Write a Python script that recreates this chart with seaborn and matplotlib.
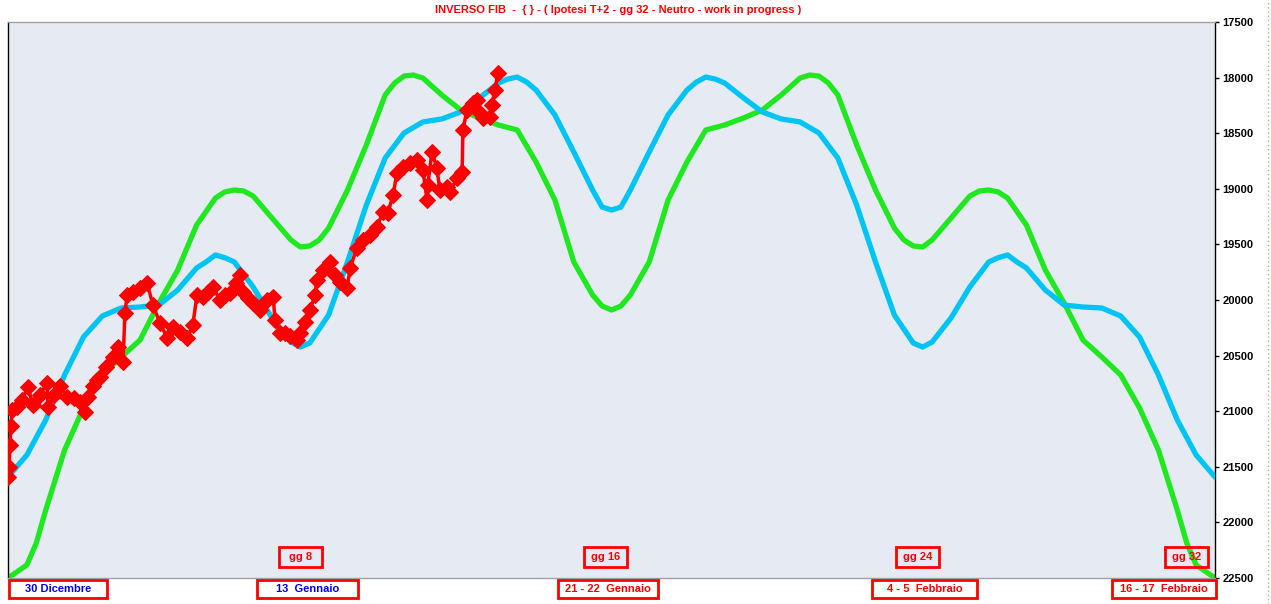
import numpy as np
import pandas as pd
import seaborn as sns
import matplotlib.pyplot as plt
from matplotlib.patches import Rectangle
from matplotlib.lines import Line2D

### sessions counted from 30 Dicembre (0) to 16-17 Febbraio (32)

### green projection (inverted scale)
green_x = [0, 0.5, 0.75, 1, 1.5, 2, 2.5, 3, 3.5, 4, 4.5, 5, 5.5, 5.75, 6, 6.25, 6.5, 7,
           7.5, 7.75, 8, 8.25, 8.5, 9, 9.5, 10, 10.25, 10.5, 10.75, 11, 11.5, 12, 12.5,
           13, 13.5, 14, 14.5, 15, 15.5, 15.75, 16,
           16.25, 16.5, 17, 17.5, 18, 18.5, 19, 19.5, 20, 20.5, 21, 21.25, 21.5, 21.75,
           22, 22.5, 23, 23.5, 23.75, 24, 24.25, 24.5, 25, 25.5, 25.75, 26, 26.25, 26.5,
           27, 27.5, 28, 28.5, 29, 29.5, 30, 30.5, 31, 31.25, 31.5, 32]
green_y = [22500, 22383, 22185, 21889, 21349, 20971, 20674, 20513, 20360, 20027, 19730,
           19326, 19083, 19028, 19011, 19020, 19065, 19263, 19460, 19523, 19514, 19460,
           19353, 19011, 18606, 18156, 18049, 17986, 17977, 18004, 18156, 18291, 18363,
           18426, 18471, 18759, 19101, 19658, 19955, 20054, 20090,
           20054, 19955, 19658, 19101, 18759, 18471, 18426, 18363, 18291, 18156, 18004,
           17977, 17986, 18049, 18156, 18606, 19011, 19353, 19460, 19514, 19523, 19460,
           19263, 19065, 19020, 19011, 19028, 19083, 19326, 19730, 20027, 20360, 20513,
           20674, 20971, 21349, 21889, 22185, 22383, 22500]

### cyan projection
cyan_x = [0, 0.5, 1, 1.5, 2, 2.5, 3, 3.5, 4, 4.5, 5, 5.25, 5.5, 5.75, 6, 6.5, 7, 7.5,
          7.75, 8, 8.5, 9, 9.5, 10, 10.5, 11, 11.5, 12, 12.5, 13, 13.25, 13.5, 13.75,
          14, 14.5, 15, 15.5, 15.75, 16,
          16.25, 16.5, 17, 17.5, 18, 18.25, 18.5, 18.75, 19, 19.5, 20, 20.5, 21, 21.5,
          22, 22.5, 23, 23.5, 24, 24.25, 24.5, 25, 25.5, 26, 26.25, 26.5, 26.75, 27,
          27.5, 28, 28.5, 29, 29.5, 30, 30.5, 31, 31.5, 32]
cyan_y = [21592, 21394, 21079, 20674, 20333, 20144, 20072, 20063, 20045, 19910, 19712,
          19658, 19595, 19620, 19658, 19883, 20162, 20378, 20423, 20387, 20135, 19658,
          19146, 18723, 18498, 18399, 18372, 18309, 18183, 18049, 18013, 17995, 18040,
          18112, 18336, 18669, 19011, 19164, 19191,
          19164, 19011, 18669, 18336, 18112, 18040, 17995, 18013, 18049, 18183, 18309,
          18372, 18399, 18498, 18723, 19146, 19658, 20135, 20387, 20423, 20378, 20162,
          19883, 19658, 19620, 19595, 19658, 19712, 19910, 20045, 20063, 20072, 20144,
          20333, 20674, 21079, 21394, 21592]

### actual index (red)
red_x = [0.00, 0.03, 0.05, 0.08, 0.11, 0.24, 0.37, 0.53, 0.66, 0.85, 1.03, 1.06, 1.22,
         1.38, 1.56, 1.75, 1.91, 2.04, 2.12, 2.25, 2.36, 2.44, 2.60, 2.78, 2.92, 3.05,
         3.10, 3.16, 3.31, 3.50, 3.69, 3.84, 4.03, 4.22, 4.37, 4.56, 4.75, 4.90, 5.01,
         5.17, 5.30, 5.43, 5.62, 5.75, 5.89, 6.04, 6.15, 6.23, 6.36, 6.50, 6.68, 6.87,
         7.03, 7.08, 7.21, 7.34, 7.48, 7.66, 7.74, 7.87, 8.01, 8.14, 8.19, 8.35, 8.54,
         8.67, 8.80, 8.99, 9.07, 9.25, 9.41, 9.60, 9.78, 9.94, 10.07, 10.21, 10.31,
         10.47, 10.66, 10.84, 11.00, 11.11, 11.13, 11.24, 11.37, 11.45, 11.64, 11.72,
         11.90, 12.04, 12.06, 12.17, 12.33, 12.43, 12.51, 12.59, 12.78, 12.83, 12.91,
         12.99]
red_y = [21592, 21502, 21304, 21133, 20989, 20962, 20899, 20782, 20944, 20854, 20746,
         20962, 20854, 20773, 20872, 20881, 20917, 21007, 20872, 20773, 20719, 20693,
         20603, 20513, 20423, 20558, 20117, 19955, 19928, 19892, 19847, 20045, 20207,
         20342, 20243, 20288, 20342, 20225, 19955, 19973, 19928, 19883, 20000, 19955,
         19937, 19847, 19775, 19928, 19982, 20027, 20090, 20000, 19973, 20180, 20297,
         20297, 20324, 20360, 20297, 20198, 20090, 19955, 19820, 19730, 19658, 19775,
         19838, 19892, 19712, 19532, 19460, 19415, 19344, 19209, 19218, 19056, 18858,
         18804, 18768, 18741, 18831, 19101, 18966, 18669, 18813, 19011, 18984, 19029,
         18903, 18849, 18471, 18291, 18228, 18201, 18318, 18363, 18354, 18246, 18112,
         17959]

y_ticks = list(range(17500, 22501, 500))

title = "INVERSO FIB  -  { } - ( Ipotesi T+2 - gg 32 - Neutro - work in progress )"
gg_labels = ["gg 8", "gg 16", "gg 24", "gg 32"]
date_labels = ["30 Dicembre", "13  Gennaio", "21 - 22  Gennaio", "4 - 5  Febbraio", "16 - 17  Febbraio"]

df_green = pd.DataFrame({"x": green_x, "y": green_y})
df_cyan = pd.DataFrame({"x": cyan_x, "y": cyan_y})
df_red = pd.DataFrame({"x": red_x, "y": red_y})

sns.set_style("white")
plt.rcParams['font.family'] = ['Liberation Sans', 'DejaVu Sans']

W, H = 1271, 604
fig = plt.figure(figsize=(W / 100, H / 100), dpi=100)
ax = fig.add_axes([8 / W, 26 / H, 1207 / W, 556 / H])
ax.set_facecolor("#e6eaf3")

sns.lineplot(data=df_green, x="x", y="y", ax=ax, color="#1ee81e", lw=3.8,
             estimator=None, sort=False, zorder=2,
             solid_joinstyle="round", solid_capstyle="round")
sns.lineplot(data=df_cyan, x="x", y="y", ax=ax, color="#00c4f4", lw=3.8,
             estimator=None, sort=False, zorder=3,
             solid_joinstyle="round", solid_capstyle="round")
sns.lineplot(data=df_red, x="x", y="y", ax=ax, color="#ff0000", lw=2.5,
             marker="D", markersize=8.5, markeredgecolor="#ff0000",
             estimator=None, sort=False, zorder=4, solid_joinstyle="round")

ax.set_xlim(0, 32)
ax.set_ylim(22500, 17500)
ax.set_xticks([])
ax.set_yticks(y_ticks)
ax.yaxis.tick_right()
ax.set_yticklabels([str(t) for t in y_ticks], fontsize=8, fontweight="bold")
ax.tick_params(axis="y", direction="out", length=3, width=1, pad=2.5, colors="black")
ax.set_xlabel("")
ax.set_ylabel("")
for side in ["left", "right"]:
    ax.spines[side].set_color("black")
    ax.spines[side].set_linewidth(1)
for side in ["top", "bottom"]:
    ax.spines[side].set_color("#a0a0a0")
    ax.spines[side].set_linewidth(1)

fig.text(618 / W, 1 - 10 / H, title, color="red", fontsize=8, fontweight="bold",
         ha="center", va="center")

### boxed labels (pixel boxes)
def box_label(x0, y0, x1, y1, text, color):
    fig.add_artist(Rectangle((x0 / W, 1 - y1 / H), (x1 - x0) / W, (y1 - y0) / H,
                             transform=fig.transFigure, fill=False, ec="red", lw=2))
    fig.text((x0 + x1) / 2 / W, 1 - (y0 + y1) / 2 / H, text, color=color,
             fontsize=8, fontweight="bold", ha="center", va="center")

gg_boxes = [(279, 547, 322, 567), (584, 547, 627, 567), (896, 547, 939, 567), (1165, 547, 1208, 567)]
for b, t in zip(gg_boxes, gg_labels):
    box_label(*b, t, "red")

date_boxes = [(9, 580, 107, 598), (257, 580, 358, 598), (558, 580, 658, 598),
              (872, 580, 977, 598), (1112, 580, 1216, 598)]
date_colors = ["#0000ff", "#0000ff", "red", "red", "red"]
for b, t, c in zip(date_boxes, date_labels, date_colors):
    box_label(*b, t, c)

fig.add_artist(Line2D([1268 / W, 1268 / W], [0, 1], transform=fig.transFigure,
                      color="#f0a060", lw=1, ls=(0, (1, 2))))

fig.savefig("out.png", dpi=100)
